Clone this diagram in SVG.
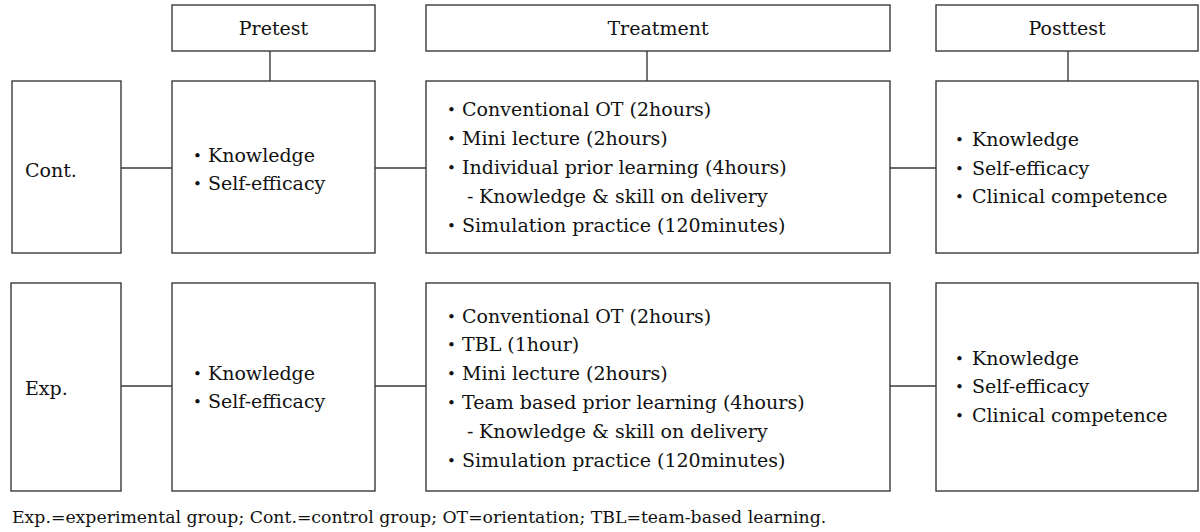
<svg xmlns="http://www.w3.org/2000/svg" width="1200" height="532" viewBox="0 0 1200 532">
<style>
.box{fill:#fff;stroke:#3a3a3a;stroke-width:1.4}
.ln{stroke:#3a3a3a;stroke-width:1.4;fill:none}
text{font-family:"DejaVu Serif","Liberation Serif",serif;font-size:19px;fill:#111}
.b{font-size:15px}
.c{text-anchor:middle}
</style>
<rect width="1200" height="532" fill="#fff"/>
<g id="connectors">
<line class="ln" x1="270" y1="51" x2="270" y2="81"/>
<line class="ln" x1="647" y1="51" x2="647" y2="81"/>
<line class="ln" x1="1068" y1="51" x2="1068" y2="81"/>
<line class="ln" x1="121" y1="168" x2="172" y2="168"/>
<line class="ln" x1="375" y1="168" x2="426" y2="168"/>
<line class="ln" x1="890" y1="168" x2="936" y2="168"/>
<line class="ln" x1="121" y1="386" x2="172" y2="386"/>
<line class="ln" x1="375" y1="386" x2="426" y2="386"/>
<line class="ln" x1="890" y1="386" x2="936" y2="386"/>
</g>
<g id="h-pretest"><rect class="box" x="172" y="5" width="203" height="46"/><text class="c" x="273.5" y="35">Pretest</text></g>
<g id="h-treatment"><rect class="box" x="426" y="5" width="464" height="46"/><text class="c" x="658" y="35">Treatment</text></g>
<g id="h-posttest"><rect class="box" x="936" y="5" width="262" height="46"/><text class="c" x="1067" y="35">Posttest</text></g>
<g id="cont"><rect class="box" x="12" y="81" width="109" height="172"/><text x="25" y="177">Cont.</text></g>
<g id="cont-pre"><rect class="box" x="172" y="81" width="203" height="172"/>
<text><tspan class="b" x="193" y="161">•</tspan><tspan x="208" y="162">Knowledge</tspan></text>
<text><tspan class="b" x="193" y="189">•</tspan><tspan x="208" y="190">Self-efficacy</tspan></text></g>
<g id="cont-treat"><rect class="box" x="426" y="81" width="464" height="172"/>
<text><tspan class="b" x="447" y="115">•</tspan><tspan x="462" y="116">Conventional OT (2hours)</tspan></text>
<text><tspan class="b" x="447" y="144">•</tspan><tspan x="462" y="145">Mini lecture (2hours)</tspan></text>
<text><tspan class="b" x="447" y="173">•</tspan><tspan x="462" y="174">Individual prior learning (4hours)</tspan></text>
<text><tspan x="467" y="203">-</tspan><tspan x="479">Knowledge &amp; skill on delivery</tspan></text>
<text><tspan class="b" x="447" y="231">•</tspan><tspan x="462" y="232">Simulation practice (120minutes)</tspan></text></g>
<g id="cont-post"><rect class="box" x="936" y="81" width="262" height="172"/>
<text><tspan class="b" x="955" y="145">•</tspan><tspan x="972" y="146">Knowledge</tspan></text>
<text><tspan class="b" x="955" y="174">•</tspan><tspan x="972" y="175">Self-efficacy</tspan></text>
<text><tspan class="b" x="955" y="202">•</tspan><tspan x="972" y="203">Clinical competence</tspan></text></g>
<g id="exp"><rect class="box" x="11" y="283" width="110" height="208"/><text x="25" y="395">Exp.</text></g>
<g id="exp-pre"><rect class="box" x="172" y="283" width="203" height="208"/>
<text><tspan class="b" x="193" y="379">•</tspan><tspan x="208" y="380">Knowledge</tspan></text>
<text><tspan class="b" x="193" y="407">•</tspan><tspan x="208" y="408">Self-efficacy</tspan></text></g>
<g id="exp-treat"><rect class="box" x="426" y="283" width="464" height="208"/>
<text><tspan class="b" x="447" y="322">•</tspan><tspan x="462" y="323">Conventional OT (2hours)</tspan></text>
<text><tspan class="b" x="447" y="350">•</tspan><tspan x="462" y="351">TBL (1hour)</tspan></text>
<text><tspan class="b" x="447" y="379">•</tspan><tspan x="462" y="380">Mini lecture (2hours)</tspan></text>
<text><tspan class="b" x="447" y="408">•</tspan><tspan x="462" y="409">Team based prior learning (4hours)</tspan></text>
<text><tspan x="467" y="438">-</tspan><tspan x="479">Knowledge &amp; skill on delivery</tspan></text>
<text><tspan class="b" x="447" y="466">•</tspan><tspan x="462" y="467">Simulation practice (120minutes)</tspan></text></g>
<g id="exp-post"><rect class="box" x="936" y="283" width="262" height="208"/>
<text><tspan class="b" x="955" y="364">•</tspan><tspan x="972" y="365">Knowledge</tspan></text>
<text><tspan class="b" x="955" y="392">•</tspan><tspan x="972" y="393">Self-efficacy</tspan></text>
<text><tspan class="b" x="955" y="421">•</tspan><tspan x="972" y="422">Clinical competence</tspan></text></g>
<text x="12" y="523" style="font-size:17.3px">Exp.=experimental group; Cont.=control group; OT=orientation; TBL=team-based learning.</text>
</svg>
